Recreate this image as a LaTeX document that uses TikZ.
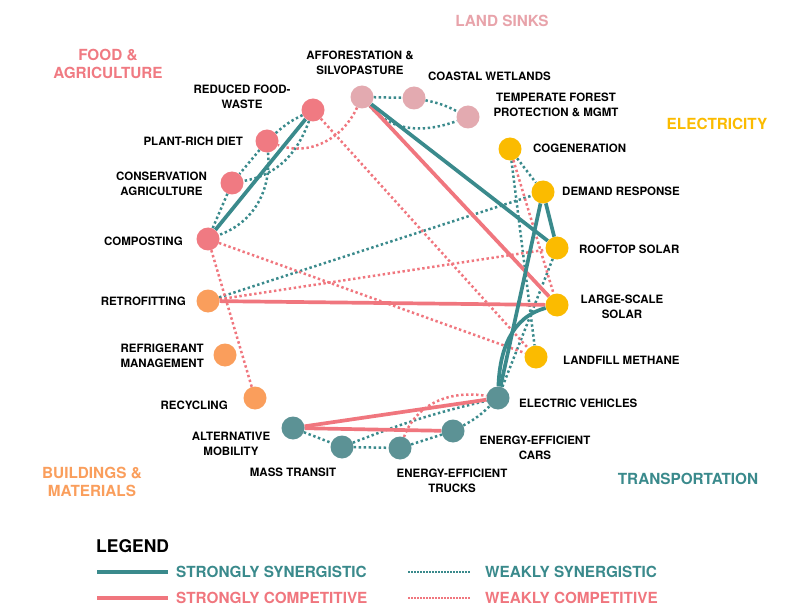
\documentclass[tikz,border=0pt]{standalone}
\usepackage{fontspec}
\setmainfont{TeX Gyre Heros}
\usetikzlibrary{backgrounds}
\definecolor{tealS}{RGB}{58,138,140}
\definecolor{pinkS}{RGB}{240,118,126}
\definecolor{foodC}{RGB}{240,122,130}
\definecolor{landC}{RGB}{227,170,176}
\definecolor{landT}{RGB}{232,163,170}
\definecolor{elecC}{RGB}{251,187,0}
\definecolor{bldC}{RGB}{250,158,92}
\definecolor{trC}{RGB}{92,146,149}
\definecolor{trT}{RGB}{58,138,140}
\begin{document}
\begin{tikzpicture}[x=1pt,y=1pt,
  bub/.style={circle,minimum size=23pt,inner sep=0pt},
  ss/.style={draw=tealS,line width=3.7pt},
  sc/.style={draw=pinkS,line width=3.7pt},
  ws/.style={draw=tealS,line width=2.5pt,dash pattern=on 2.4pt off 2.6pt},
  wc/.style={draw=pinkS,line width=2.5pt,dash pattern=on 2.4pt off 2.6pt},
  wsl/.style={draw=tealS,line width=1.7pt,dash pattern=on 1.5pt off 1.5pt},
  wcl/.style={draw=pinkS,line width=1.7pt,dash pattern=on 1.5pt off 1.5pt},
  lab/.style={font=\bfseries\fontsize{11.5}{14.5}\selectfont,align=center,inner sep=0pt,text=black},
  cat/.style={font=\bfseries\fontsize{15.3}{18}\selectfont,align=center,inner sep=0pt},
  leg/.style={font=\bfseries\fontsize{15.3}{18}\selectfont,inner sep=0pt,anchor=west}
]
\useasboundingbox (0,0) rectangle (789,-612);
\begin{pgfonlayer}{background}
\fill[white] (0,0) rectangle (789,-612);
\end{pgfonlayer}

% ---- nodes ----
\node[bub,fill=landC] (aff) at (362,-97) {};
\node[bub,fill=landC] (cw) at (414,-98) {};
\node[bub,fill=landC] (tf) at (468,-117) {};
\node[bub,fill=foodC] (rfw) at (313,-110) {};
\node[bub,fill=foodC] (prd) at (267,-141) {};
\node[bub,fill=foodC] (ca) at (232,-183) {};
\node[bub,fill=foodC] (comp) at (208,-239) {};
\node[bub,fill=bldC] (retro) at (208,-301) {};
\node[bub,fill=bldC] (refr) at (225,-355) {};
\node[bub,fill=bldC] (rec) at (255,-398) {};
\node[bub,fill=elecC] (cog) at (510,-149) {};
\node[bub,fill=elecC] (dr) at (543,-192) {};
\node[bub,fill=elecC] (roof) at (557,-248) {};
\node[bub,fill=elecC] (lss) at (557,-305) {};
\node[bub,fill=elecC] (lfm) at (536,-357) {};
\node[bub,fill=trC] (ev) at (498,-398) {};
\node[bub,fill=trC] (cars) at (453,-431) {};
\node[bub,fill=trC] (trucks) at (400,-448) {};
\node[bub,fill=trC] (mt) at (342,-447) {};
\node[bub,fill=trC] (am) at (293,-428) {};

% ---- connectors ----
\begin{pgfonlayer}{background}
% weakly synergistic
\draw[ws] (aff) -- (cw);
\draw[ws] (cw) to[bend left=8] (tf);
\draw[ws] (aff) to[out=-50,in=200] (tf);
\draw[ws] (rfw) to[bend right=8] (prd);
\draw[ws] (rfw) to[out=-110,in=10] (ca);
\draw[ws] (prd) -- (ca);
\draw[ws] (prd) to[out=-85,in=20] (comp);
\draw[ws] (ca) -- (comp);
\draw[ws] (retro) -- (dr);
\draw[ws] (cog) -- (dr);
\draw[ws] (cog) -- (lfm);
\draw[ws] (roof) -- (ev);
\draw[ws] (am) -- (mt);
\draw[ws] (mt) -- (trucks);
\draw[ws] (mt) to[bend left=4] (ev);
\draw[ws] (trucks) -- (cars);
\draw[ws] (cars) to[bend right=8] (ev);
% weakly competitive
\draw[wc] (aff) to[out=245,in=340] (prd);
\draw[wc] (rfw) -- (lfm);
\draw[wc] (comp) -- (lfm);
\draw[wc] (comp) -- (rec);
\draw[wc] (retro) -- (roof);
\draw[wc] (cog) -- (lss);
\draw[wc] (trucks) to[out=70,in=170] (ev);
% strongly competitive
\draw[sc] (aff) -- (lss);
\draw[sc] (retro) -- (lss);
\draw[sc] (am) -- (ev);
\draw[sc] (am) -- (cars);
% strongly synergistic
\draw[ss] (rfw) -- (comp);
\draw[ss] (aff) -- (roof);
\draw[ss] (dr) -- (roof);
\draw[ss] (dr) -- (ev);
\draw[ss] (lss) to[out=195,in=88] (ev);
\end{pgfonlayer}

% ---- node labels ----
\node[lab] (taff) at (360,-63) {AFFORESTATION \&\\SILVOPASTURE};
\node[lab,anchor=west] (tcw) at (428,-76) {COASTAL WETLANDS};
\node[lab] (ttf) at (556,-105) {TEMPERATE FOREST\\PROTECTION \& MGMT};
\node[lab] (trfw) at (242,-97) {REDUCED FOOD-\\WASTE};
\node[lab,anchor=east] (tprd) at (243,-141) {PLANT-RICH DIET};
\node[lab,anchor=east] (tca) at (207,-184) {CONSERVATION\\AGRICULTURE};
\node[lab,anchor=east] (tcomp) at (183,-241) {COMPOSTING};
\node[lab,anchor=east] (tretro) at (186,-301) {RETROFITTING};
\node[lab,anchor=east] (trefr) at (204,-356) {REFRIGERANT\\MANAGEMENT};
\node[lab,anchor=east] (trec) at (228,-405) {RECYCLING};
\node[lab,anchor=west] (tcog) at (533,-148) {COGENERATION};
\node[lab,anchor=west] (tdr) at (562,-191) {DEMAND RESPONSE};
\node[lab,anchor=west] (troof) at (579,-249) {ROOFTOP SOLAR};
\node[lab] (tlss) at (622,-307) {LARGE-SCALE\\SOLAR};
\node[lab,anchor=west] (tlfm) at (563,-360) {LANDFILL METHANE};
\node[lab,anchor=west] (tev) at (519,-403) {ELECTRIC VEHICLES};
\node[lab] (tcars) at (535,-448) {ENERGY-EFFICIENT\\CARS};
\node[lab] (ttrucks) at (452,-481) {ENERGY-EFFICIENT\\TRUCKS};
\node[lab] (tmt) at (293,-472) {MASS TRANSIT};
\node[lab] (tam) at (231,-444) {ALTERNATIVE\\MOBILITY};

% ---- category labels ----
\node[cat,text=landT] (clsk) at (502,-21) {LAND SINKS};
\node[cat,text=foodC] (cfood) at (108,-64) {FOOD \&\\AGRICULTURE};
\node[cat,text=elecC] (celec) at (717,-124) {ELECTRICITY};
\node[cat,text=bldC] (cbld) at (92,-482) {BUILDINGS \&\\MATERIALS};
\node[cat,text=trT] (ctr) at (688,-479) {TRANSPORTATION};

% ---- legend ----
\node[leg,text=black,font=\bfseries\fontsize{17.5}{20}\selectfont] (lgd) at (96,-546) {LEGEND};
\coordinate (a1) at (97,-572); \coordinate (b1) at (168,-572);
\coordinate (a2) at (97,-598); \coordinate (b2) at (168,-598);
\coordinate (a3) at (408,-572); \coordinate (b3) at (471,-572);
\coordinate (a4) at (408,-598); \coordinate (b4) at (471,-598);
\draw[ss] (a1) -- (b1);
\draw[sc] (a2) -- (b2);
\draw[wsl] (a3) -- (b3);
\draw[wcl] (a4) -- (b4);
\node[leg,text=tealS] (ls1) at (176,-572) {STRONGLY SYNERGISTIC};
\node[leg,text=pinkS] (ls2) at (176,-598) {STRONGLY COMPETITIVE};
\node[leg,text=tealS] (ls3) at (485,-572) {WEAKLY SYNERGISTIC};
\node[leg,text=pinkS] (ls4) at (485,-598) {WEAKLY COMPETITIVE};
\end{tikzpicture}
\end{document}
